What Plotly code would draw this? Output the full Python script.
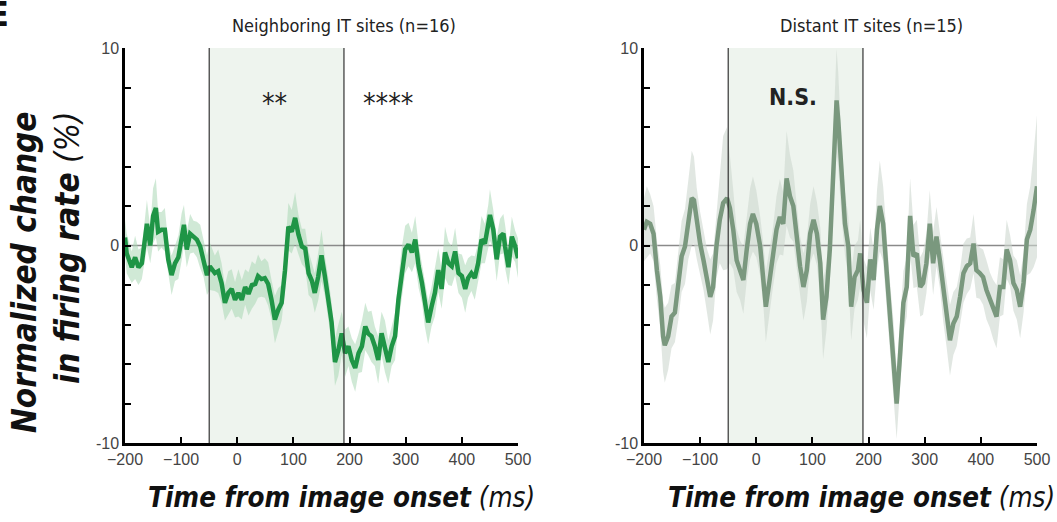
import plotly.graph_objects as go

# ---------------- data ----------------
near_t = [-200,-197,-188,-182,-176,-170,-161,-155,-150,-145,-141,-135,-129,-123,-117,-111,-105,-99,-95,-90,
          -84,-78,-72,-66,-60,-54,-49,-40,-34,-28,-22,-16,-10,-4,2,8,14,20,26,32,
          37,43,49,55,61,67,73,79,85,91,97,103,109,115,121,127,133,138,144,150,
          156,162,168,174,180,186,192,198,204,210,216,222,228,233,239,245,251,257,263,269,
          275,281,287,293,299,305,311,317,323,329,334,340,346,352,358,364,370,376,382,388,
          394,400,406,411,417,423,429,435,441,447,450,456,462,468,474,477,483,489,495,500]
near_mean = [0.4,-0.4,-1.1,-0.6,-1.1,-0.9,1.1,0.0,1.5,1.9,0.7,0.8,0.8,-0.7,-1.5,-0.9,-0.6,0.45,1.05,-0.2,
             0.6,0.45,0.3,-0.05,-0.7,-1.5,-1.05,-1.4,-1.3,-1.9,-2.9,-2.4,-2.2,-2.75,-2.4,-2.75,-2.1,-2.45,-2.0,-1.95,
             -1.55,-1.7,-1.65,-1.95,-2.75,-3.75,-3.25,-2.9,-1.25,0.95,0.7,1.4,0.55,-0.05,-0.15,-1.4,-1.8,-2.4,-1.6,-0.5,
             -1.55,-2.7,-3.9,-5.9,-5.3,-4.45,-5.45,-5.1,-5.8,-6.2,-5.45,-5.1,-4.1,-4.45,-4.6,-5.1,-5.8,-4.45,-5.1,-5.9,
             -5.1,-4.6,-2.75,-1.4,-0.2,0.05,-0.35,0.3,-1.05,-1.9,-2.9,-3.9,-3.1,-2.4,-1.25,-2.2,-0.35,-0.9,-1.05,-0.3,
             -1.4,-1.55,-2.2,-1.65,-1.4,-1.65,-0.9,0.3,0.1,0.95,1.55,0.8,-0.7,0.45,0.6,-0.05,-1.1,0.45,-0.05,-0.65]
near_sem = [0.9,1.0,0.8,1.1,0.9,0.8,1.2,0.9,1.4,1.5,1.0,0.9,1.1,0.8,1.0,0.9,1.1,1.2,1.0,0.9,
            1.0,0.8,0.9,1.1,0.9,1.0,1.2,0.9,1.1,1.0,0.9,1.1,1.0,0.9,1.2,1.0,0.9,1.1,1.2,1.0,
            1.1,0.9,1.0,1.1,1.0,1.2,1.1,0.9,1.0,1.2,1.1,1.3,1.0,0.9,1.0,1.1,0.9,1.0,1.2,1.3,
            1.0,1.1,1.0,1.2,1.3,1.1,1.2,1.0,1.1,1.2,1.0,1.3,1.2,1.1,1.3,1.0,1.2,1.1,1.3,1.1,
            1.0,1.2,1.1,1.3,1.2,1.1,1.0,1.2,1.1,1.0,1.2,1.1,1.0,1.2,1.1,1.0,1.3,1.1,1.0,1.2,
            1.0,1.1,1.2,1.0,0.9,1.1,1.0,1.2,1.0,1.1,1.3,1.0,1.1,0.9,1.0,1.1,0.9,1.0,0.8,1.0]

far_t = [-200,-195,-189,-183,-177,-171,-166,-163,-157,-151,-145,-139,-133,-127,-121,-115,-111,-106,-100,-94,
         -88,-82,-77,-71,-65,-59,-52,-47,-41,-35,-29,-23,-17,-11,-6,0,7,13,17,23,
         29,36,42,48,54,60,66,72,78,84,90,96,102,108,114,119,125,131,137,143,
         146,152,158,164,169,175,181,185,191,197,203,209,215,220,226,232,238,244,250,256,
         262,268,274,280,286,292,297,303,309,315,321,327,333,339,345,351,357,363,369,375,
         381,387,392,398,404,410,416,422,428,434,440,446,452,458,464,470,476,482,488,494,500]
far_mean = [0.8,1.2,1.1,0.6,-1.25,-2.6,-4.6,-5.05,-4.6,-3.6,-3.4,-2.1,-0.55,-0.05,1.3,2.4,2.3,1.1,0.1,-0.75,
            -1.75,-2.6,-2.1,-0.05,1.3,2.15,2.4,1.9,0.8,-0.75,-1.25,-1.75,-0.2,1.1,1.6,1.1,-0.05,-1.6,-3.1,-1.9,
            -0.75,0.8,1.45,1.1,3.4,2.5,2.0,0.45,-1.05,-2.1,-1.25,0.6,1.3,0.6,-0.9,-3.75,-2.6,-0.2,3.65,7.35,
            6.35,3.3,1.1,-0.05,-3.1,-1.6,-1.25,-0.4,-2.25,-2.9,-0.7,-1.75,0.8,2.0,1.1,-1.25,-3.6,-5.6,-8.0,-5.6,
            -2.9,-2.1,1.5,-0.55,-0.4,-2.1,-1.9,-0.9,1.1,-0.9,0.45,-0.75,-2.25,-3.45,-4.8,-3.95,-3.6,-2.6,-1.4,-1.05,
            -0.9,0.1,-1.25,-1.4,-1.6,-2.25,-2.75,-3.25,-3.6,-2.1,-2.1,-0.2,-0.75,-1.9,-2.25,-3.1,-1.9,0.3,0.8,1.8,3.0]
far_sem = [1.6,1.8,1.5,1.4,1.5,1.6,1.8,1.9,1.7,1.6,1.5,1.7,1.8,1.9,2.0,2.4,2.2,1.8,1.6,1.5,
           1.6,1.9,1.7,1.6,2.2,3.4,3.6,2.8,2.0,1.6,1.5,1.7,1.6,1.8,1.9,1.7,1.5,1.6,1.8,1.6,
           1.5,1.7,1.9,1.6,2.4,2.1,1.8,1.6,1.5,1.7,1.6,1.5,1.7,1.6,1.8,2.0,1.7,1.6,2.0,2.6,
           2.4,1.9,1.6,1.5,1.7,1.6,1.5,1.7,1.6,1.8,1.6,1.5,2.0,2.3,1.9,1.7,1.8,1.9,1.8,1.7,
           1.6,1.5,1.9,1.6,1.7,1.5,1.6,1.5,1.7,1.6,1.5,1.4,1.6,1.7,1.8,1.6,1.5,1.4,1.5,1.4,
           1.3,1.5,1.4,1.3,1.4,1.5,1.4,1.5,1.6,1.5,1.4,1.5,1.3,1.4,1.5,1.6,1.5,1.8,2.2,2.9,3.6]

x_ticks = [-200, -100, 0, 100, 200, 300, 400, 500]
y_ticks = [-10, -8, -6, -4, -2, 0, 2, 4, 6, 8, 10]
y_ticktext = ['-10', '', '', '', '', '0', '', '', '', '', '10']
window = [-50, 190]

W, H = 1057, 522
panels = [
    dict(title="Neighboring IT sites (n=16)", t=near_t, m=near_mean, s=near_sem,
         line="#1f9546", band="rgba(170,215,180,0.55)", ax="", marks=[("**", 67), ("****", 268)], bold=False,
         title_x=344, xtitle_x=341),
    dict(title="Distant IT sites (n=15)", t=far_t, m=far_mean, s=far_sem,
         line="#7a987e", band="rgba(205,215,207,0.6)", ax="2", marks=[("N.S.", 65)], bold=True,
         title_x=871, xtitle_x=861),
]

domains_x = [[125 / W, 518 / W], [644 / W, 1037 / W]]
dom_y = [(522 - 443) / H, (522 - 48) / H]

fig = go.Figure()
shapes = []
annotations = []
narrow = "DejaVu Sans Condensed, sans-serif"

for i, p in enumerate(panels):
    xa = "x" + p["ax"]
    ya = "y" + p["ax"]
    upper = [m + s for m, s in zip(p["m"], p["s"])]
    lower = [m - s for m, s in zip(p["m"], p["s"])]
    fig.add_trace(go.Scatter(x=p["t"], y=upper, mode="lines", line=dict(width=0, color=p["band"]),
                             xaxis=xa, yaxis=ya, showlegend=False, hoverinfo="skip"))
    fig.add_trace(go.Scatter(x=p["t"], y=lower, mode="lines", line=dict(width=0, color=p["band"]),
                             fill="tonexty", fillcolor=p["band"],
                             xaxis=xa, yaxis=ya, showlegend=False, hoverinfo="skip"))
    fig.add_trace(go.Scatter(x=p["t"], y=p["m"], mode="lines", line=dict(width=4.5, color=p["line"]),
                             xaxis=xa, yaxis=ya, showlegend=False))
    shapes.append(dict(type="rect", xref=xa, yref=ya + " domain", x0=window[0], x1=window[1], y0=0, y1=1,
                       fillcolor="#eef4ee", line=dict(width=0), layer="below"))
    for wx in window:
        shapes.append(dict(type="line", xref=xa, yref=ya + " domain", x0=wx, x1=wx, y0=0, y1=1,
                           line=dict(color="#333333", width=1.2), layer="above"))
    shapes.append(dict(type="line", xref=xa + " domain", yref=ya, x0=0, x1=1, y0=0, y1=0,
                       line=dict(color="#8a8a8a", width=1.5), layer="below"))
    axis_common = dict(showline=True, linecolor="black", linewidth=2.5, ticks="inside", ticklen=6,
                       tickwidth=2, tickcolor="black", showgrid=False, zeroline=False,
                       tickfont=dict(family="Liberation Sans, Arial, sans-serif", size=16, color="#444444"))
    fig.update_layout(**{
        ("xaxis" + p["ax"]): dict(domain=domains_x[i], range=[-200, 500], tickvals=x_ticks,
                                   anchor=ya, **axis_common),
        ("yaxis" + p["ax"]): dict(domain=dom_y, range=[-10, 10], tickvals=y_ticks, ticktext=y_ticktext,
                                   anchor=xa, **axis_common),
    })
    annotations.append(dict(text=p["title"], xref="paper", yref="paper", x=p["title_x"] / W,
                            y=(522 - 26) / H, xanchor="center", yanchor="middle",
                            showarrow=False, font=dict(family=narrow, size=18, color="#222222")))
    for txt, tx in p["marks"]:
        if p["bold"]:
            t = "<b>" + txt + "</b>"
            fs = 23
            ty = 7.5
        else:
            t = txt
            fs = 28
            ty = 7.2
        annotations.append(dict(text=t, xref=xa, yref=ya, x=tx, y=ty, showarrow=False,
                                font=dict(family=narrow, size=fs, color="#222222")))
    annotations.append(dict(text="<b><i>Time from image onset</i></b><i> (ms)</i>", xref="paper", yref="paper",
                            x=p["xtitle_x"] / W, y=(522 - 497) / H, xanchor="center", yanchor="middle",
                            showarrow=False, font=dict(family=narrow, size=27.5, color="#111111")))

annotations.append(dict(text="<b><i>Normalized change</i></b><br><b><i>in firing rate</i></b><i> (%)</i>",
                        xref="paper", yref="paper", x=46 / W, y=(522 - 272) / H, textangle=-90,
                        xanchor="center", yanchor="middle", align="right", showarrow=False,
                        font=dict(family=narrow, size=33, color="#111111")))
annotations.append(dict(text="<b>E</b>", xref="paper", yref="paper", x=11 / W, y=(522 - 36) / H,
                        xanchor="right", yanchor="bottom", showarrow=False,
                        font=dict(family=narrow, size=34, color="#111111")))

fig.update_layout(width=W, height=H, margin=dict(l=0, r=0, t=0, b=0, autoexpand=False),
                  plot_bgcolor="white", paper_bgcolor="white",
                  shapes=shapes, annotations=annotations)
fig.write_html("out.html")
